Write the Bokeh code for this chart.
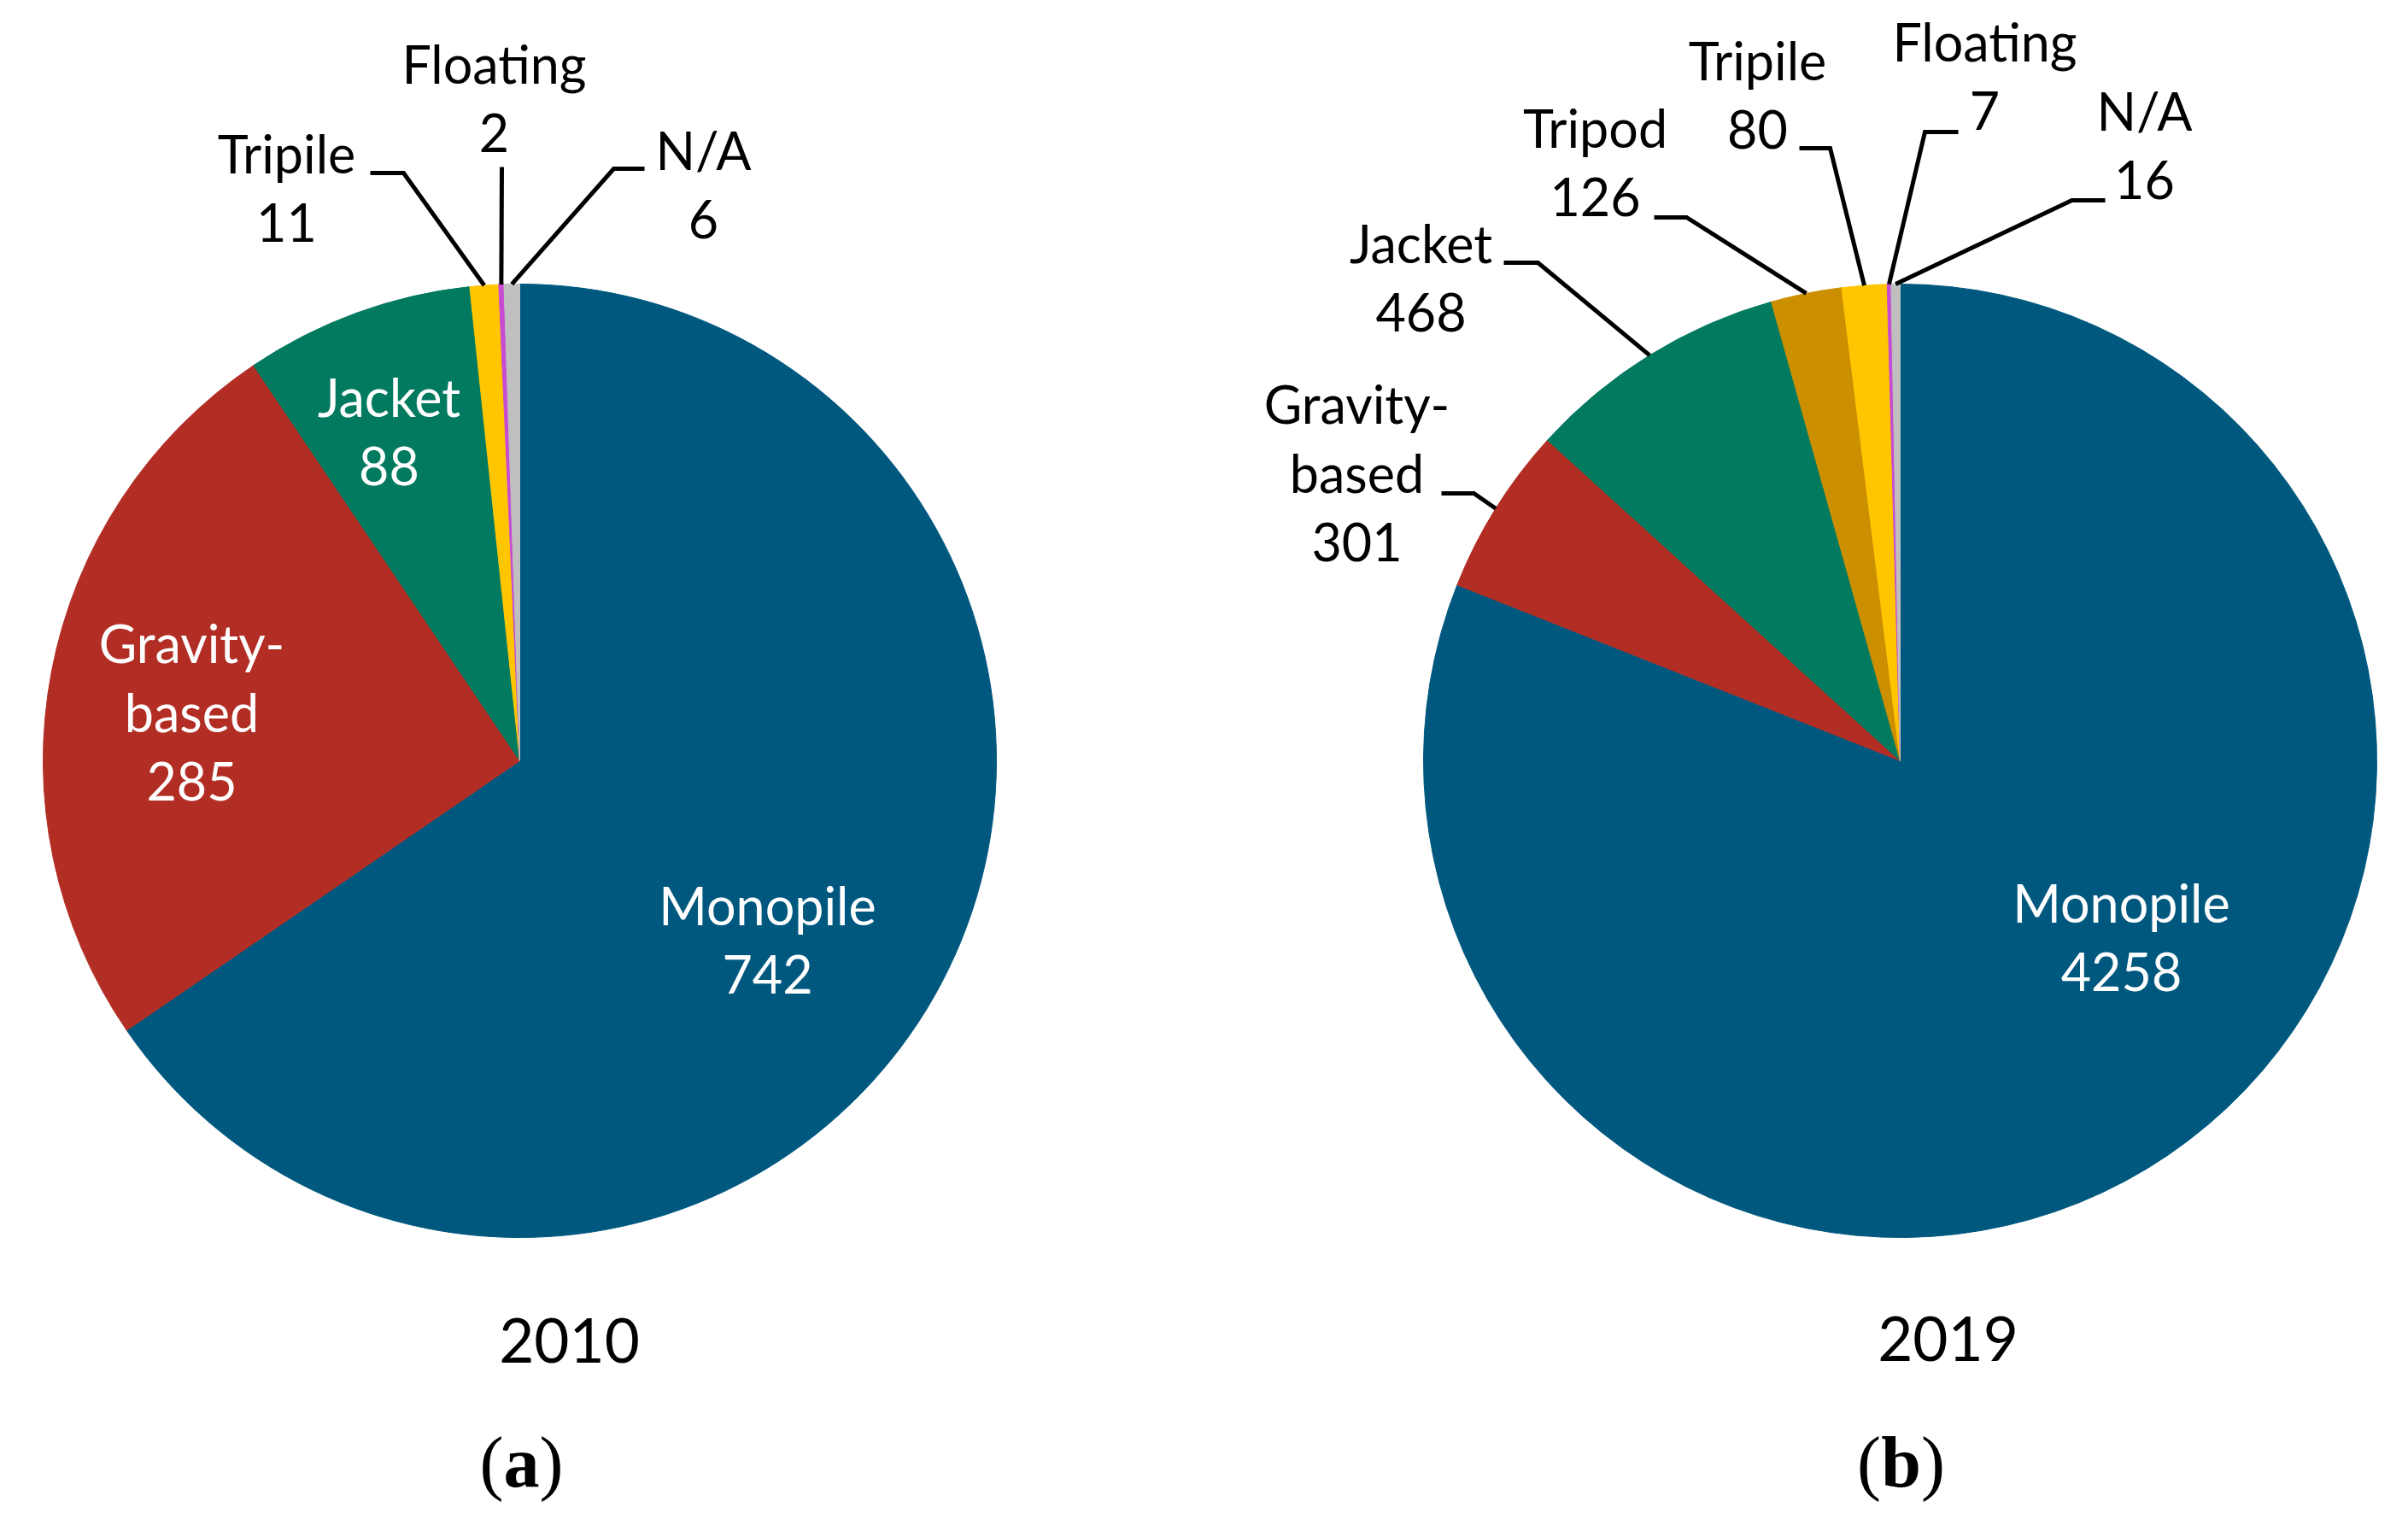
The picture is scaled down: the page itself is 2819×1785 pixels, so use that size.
import math
from bokeh.plotting import figure
from bokeh.models import ColumnDataSource, Range1d
from bokeh.core.properties import value
from bokeh.embed import file_html
from bokeh.resources import INLINE

# ---------------- data ----------------
categories_2010 = ["Monopile", "Gravity-based", "Jacket", "Tripile", "Floating", "N/A"]
values_2010 = [742, 285, 88, 11, 2, 6]

categories_2019 = ["Monopile", "Gravity-based", "Jacket", "Tripod", "Tripile", "Floating", "N/A"]
values_2019 = [4258, 301, 468, 126, 80, 7, 16]

years = ["2010", "2019"]
panel_tags = ["a", "b"]

# ---------------- styles / layout ----------------
COLORS = {
    "Monopile": "#00587F",
    "Gravity-based": "#B22E25",
    "Jacket": "#027A60",
    "Tripod": "#CC8F00",
    "Tripile": "#FFC600",
    "Floating": "#C84BD2",
    "N/A": "#BFBFBF",
}

PAGE_W, PAGE_H = 2819, 1785
W, H = PAGE_W, PAGE_H

PIES = [dict(cx=608, cy=890, r=558), dict(cx=2224, cy=890, r=558)]

LABELS = [
    {
        "Monopile": dict(x=898, y=1082, color="white"),
        "Gravity-based": dict(x=224, y=775, color="white"),
        "Jacket": dict(x=455, y=487, color="white"),
        "Tripile": dict(x=335, y=202, leader=[(433, 202), (472, 202)]),
        "Floating": dict(x=578, y=97, leader=[(587, 195)]),
        "N/A": dict(x=823, y=198, leader=[(754, 197), (718, 197)]),
    },
    {
        "Monopile": dict(x=2483, y=1079, color="white"),
        "Gravity-based": dict(x=1588, y=495, leader=[(1687, 577), (1725, 577)]),
        "Jacket": dict(x=1663, y=307, leader=[(1760, 307), (1800, 307)]),
        "Tripod": dict(x=1867, y=172, leader=[(1936, 254), (1974, 254)]),
        "Tripile": dict(x=2057, y=93, leader=[(2106, 173), (2142, 173)]),
        "Floating": dict(x=2323, y=71, leader=[(2292, 154), (2253, 154)]),
        "N/A": dict(x=2510, y=152, leader=[(2464, 234), (2425, 234)]),
    },
]

YEAR_POS = [(666, 1595), (2280, 1593)]
TAG_POS = [(610, 1742, 42), (2225, 1742, 47)]  # x, baseline, glyph width
LINE_SP = 81
LABEL_FONT = "Lato"
LABEL_PX = 61
YEAR_PX = 71
TAG_PX = 84
BASE_SHIFT = 0.37  # empirical baseline correction (fraction of font size)


def Y(y_ref):
    return PAGE_H - y_ref


def TY(y_ref, px):
    return PAGE_H - (y_ref - BASE_SHIFT * px)


p = figure(
    width=W, height=H,
    x_range=Range1d(0, W),
    y_range=Range1d(0, H),
    output_backend="svg", toolbar_location=None,
    x_axis_location=None, y_axis_location=None,
    min_border=0, outline_line_color=None,
)
p.grid.visible = False
p.background_fill_color = "white"
p.border_fill_color = "white"

datasets = [(categories_2010, values_2010), (categories_2019, values_2019)]

for k, (cats, vals) in enumerate(datasets):
    pie = PIES[k]
    total = float(sum(vals))
    starts, ends, mids = [], [], []
    cum = 0.0
    for v in vals:
        t1 = cum / total * 2 * math.pi
        cum += v
        t2 = cum / total * 2 * math.pi
        # clockwise from 12 o'clock -> bokeh anticlockwise from +x
        starts.append(math.pi / 2 - t2)
        ends.append(math.pi / 2 - t1)
        mids.append((t1 + t2) / 2)
    src = ColumnDataSource(dict(
        start=starts, end=ends, cat=cats, val=vals,
        color=[COLORS[c] for c in cats],
    ))
    p.wedge(x=pie["cx"], y=Y(pie["cy"]), radius=pie["r"],
            start_angle="start", end_angle="end",
            fill_color="color", line_color="color", line_width=1, source=src)

    # labels and leaders
    tx, ty, tt, tc = [], [], [], []
    for c, v, m in zip(cats, vals, mids):
        lab = LABELS[k][c]
        lines = c.replace("-", "-\n").split("\n") + [str(v)]
        for i, ln in enumerate(lines):
            tx.append(lab["x"])
            ty.append(TY(lab["y"] + i * LINE_SP, LABEL_PX))
            tt.append(ln)
            tc.append(lab.get("color", "black"))
        if "leader" in lab:
            ex = pie["cx"] + pie["r"] * math.sin(m)
            ey = pie["cy"] - pie["r"] * math.cos(m)
            pts = lab["leader"] + [(ex, ey)]
            p.line([q[0] for q in pts], [Y(q[1]) for q in pts],
                   line_color="black", line_width=5, line_join="miter")
    p.text(x=tx, y=ty, text=tt, text_color=tc,
           text_align="center", text_baseline="alphabetic",
           text_font=value(LABEL_FONT), text_font_size=f"{LABEL_PX}px")

    # year
    yx, yy = YEAR_POS[k]
    p.text(x=[yx], y=[TY(yy, YEAR_PX)], text=[years[k]], text_color="black",
           text_align="center", text_baseline="alphabetic",
           text_font=value(LABEL_FONT), text_font_size=f"{YEAR_PX}px")

    # panel tag "(a)" with bold letter
    gx, gy, gw = TAG_POS[k]
    p.text(x=[gx], y=[TY(gy, TAG_PX)], text=[panel_tags[k]], text_color="black",
           text_align="center", text_baseline="alphabetic",
           text_font=value("Liberation Serif"), text_font_size=f"{TAG_PX}px",
           text_font_style="bold")
    p.text(x=[gx - gw / 2], y=[TY(gy, TAG_PX)], text=["("], text_color="black",
           text_align="right", text_baseline="alphabetic",
           text_font=value("Liberation Serif"), text_font_size=f"{TAG_PX}px")
    p.text(x=[gx + gw / 2], y=[TY(gy, TAG_PX)], text=[")"], text_color="black",
           text_align="left", text_baseline="alphabetic",
           text_font=value("Liberation Serif"), text_font_size=f"{TAG_PX}px")

open("out.html", "w").write(file_html(p, INLINE))
